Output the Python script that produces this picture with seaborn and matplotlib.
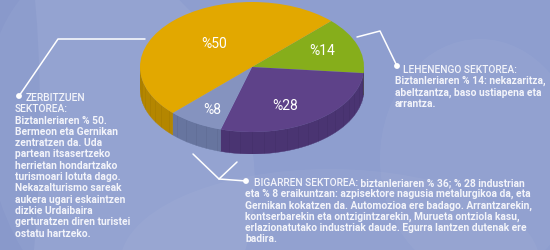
import numpy as np
import matplotlib
matplotlib.use("Agg")
import matplotlib.pyplot as plt
from matplotlib.patches import Polygon, Ellipse, Circle
import seaborn as sns

# ---- data ----
sectors = ["Lehenengo", "Bigarren (industria)", "Bigarren (eraikuntza)", "Zerbitzuak"]
values = [14, 28, 8, 50]
pct_labels = ["%14", "%28", "%8", "%50"]
top_colors = ["#86AE1B", "#5E4289", "#8593BF", "#E2A800"]
side_colors = ["#5F7E10", "#4A3472", "#67759F", "#B48600"]

left_head = ["ZERBITZUEN", "SEKTOREA:"]
left_body = ["Biztanleriaren % 50.", "Bermeon eta Gernikan", "zentratzen da. Uda",
             "partean itsasertzeko", "herrietan hondartzako", "turismoari lotuta dago.",
             "Nekazalturismo sareak", "aukera ugari eskaintzen", "dizkie Urdaibaira",
             "gerturatzen diren turistei", "ostatu hartzeko."]
right_head = "LEHENENGO SEKTOREA:"
right_body = ["Biztanleriaren % 14: nekazaritza,", "abeltzantza, baso ustiapena eta",
              "arrantza."]
bottom_head = "BIGARREN SEKTOREA:"
bottom_first = " biztanleriaren % 36; % 28 industrian"
bottom_body = ["eta % 8 eraikuntzan: azpisektore nagusia metalurgikoa da, eta",
               "Gernikan kokatzen da. Automozioa ere badago. Arrantzarekin,",
               "kontserbarekin eta ontzigintzarekin, Murueta ontziola kasu,",
               "erlazionatutako industriak daude. Egurra lantzen dutenak ere",
               "badira."]

sns.set_theme(style="white")
plt.rcParams['font.family'] = ['Roboto', 'DejaVu Sans']

W, H = 550, 251
fig = plt.figure(figsize=(W / 100, H / 100), dpi=100)
bg = "#8E9ECF"
fig.patch.set_facecolor(bg)

ax = fig.add_axes([0, 0, 1, 1])
ax.set_xlim(0, W)
ax.set_ylim(H, 0)
ax.axis("off")
ax.set_facecolor(bg)

# subtle lighter background shapes
ax.add_patch(Ellipse((120, 150), 260, 380, angle=-15, color="white", alpha=0.06, lw=0))
ax.add_patch(Ellipse((480, 160), 200, 240, color="white", alpha=0.04, lw=0))
ax.add_patch(Ellipse((330, 265), 420, 190, color="white", alpha=0.04, lw=0))
ax.add_patch(Ellipse((15, 120), 50, 400, color="#7F90C4", alpha=0.3, lw=0))
ax.set_zorder(0)

# ---- pie ----
cx0, cx1 = 140, 364
top_px, bot_top_px, bot_px = 3, 133, 155
b = (bot_top_px - top_px) / 2
d = (bot_px - bot_top_px) / b
pax = fig.add_axes([cx0 / W, 1 - bot_px / H, (cx1 - cx0) / W, (bot_px - top_px) / H])
pax.axis("off")
pax.set_zorder(1)

fr = np.array(values) / np.sum(values)
start = 45.0
angles = []
a = start
for f in fr:
    a2 = a - f * 360
    angles.append((a2, a))
    a = a2

for (a1, a2), sc in zip(angles, side_colors):
    lo = a1 % 360
    hi = lo + (a2 - a1)
    for k in (0, 360):
        s = max(lo, 180 + k)
        e = min(hi, 360 + k)
        if e > s:
            t = np.radians(np.linspace(s, e, 60))
            xs = np.cos(t)
            ys = np.sin(t)
            pts = np.concatenate([np.column_stack([xs, ys]),
                                  np.column_stack([xs[::-1], ys[::-1] - d])])
            pax.add_patch(Polygon(pts, closed=True, facecolor=sc, edgecolor=sc, lw=0.3, zorder=1))
            for tt in np.radians(np.arange(np.ceil(s / 6) * 6, e, 6)):
                pax.plot([np.cos(tt)] * 2, [np.sin(tt), np.sin(tt) - d],
                         color="black", alpha=0.05, lw=0.6, zorder=1.5)

wedges, _ = pax.pie(values, colors=top_colors, startangle=start, counterclock=False,
                    radius=1, center=(0, 0), frame=False,
                    wedgeprops=dict(linewidth=0, zorder=2))
pax.set_aspect("auto")
pax.set_xlim(-1, 1)
pax.set_ylim(-1 - d, 1)

# overlay axes for labels and text on top
tax = fig.add_axes([0, 0, 1, 1])
tax.set_xlim(0, W)
tax.set_ylim(H, 0)
tax.axis("off")
tax.set_zorder(2)

label_pos = [(322, 51), (285, 106), (212, 110), (214, 44)]
for lab, (x, y) in zip(pct_labels, label_pos):
    tax.text(x, y, lab, color="white", fontsize=10, ha="center", va="center")

# ---- callout lines ----
lc = "white"
tax.plot([145, 58, 19], [40, 40, 97], color=lc, lw=1.1)
tax.add_patch(Circle((19, 97), 2.2, color=lc))
tax.plot([357, 380, 397], [38, 32, 67], color=lc, lw=1.1)
tax.add_patch(Circle((397, 67), 2.2, color=lc))
tax.plot([193, 219, 237], [155, 180, 163], color=lc, lw=1.1)
tax.plot([219, 246], [180, 182], color=lc, lw=1.1)
tax.add_patch(Circle((246, 182), 2.2, color=lc))

# ---- text ----
tc = "#F3F4FA"
fs = 7.4
step = 11.3
tax.text(26, 98, left_head[0], color=tc, fontsize=fs, va="center", ha="left", fontweight="medium")
tax.text(15, 98 + step, left_head[1], color=tc, fontsize=fs, va="center", ha="left", fontweight="medium")
for i, line in enumerate(left_body):
    tax.text(15, 98 + step * (i + 2), line, color=tc, fontsize=fs, va="center", ha="left", fontweight="bold")

tax.text(403, 70, right_head, color=tc, fontsize=fs, va="center", ha="left", fontweight="medium")
for i, line in enumerate(right_body):
    tax.text(395, 70 + step * (i + 1), line, color=tc, fontsize=fs, va="center", ha="left", fontweight="bold")

t = tax.text(254, 183, bottom_head, color=tc, fontsize=fs, va="center", ha="left", fontweight="medium")
fig.canvas.draw()
bb = t.get_window_extent()
x_end_data = tax.transData.inverted().transform((bb.x1, 0))[0]
tax.text(x_end_data, 183, bottom_first, color=tc, fontsize=fs, va="center", ha="left", fontweight="bold")
for i, line in enumerate(bottom_body):
    tax.text(245, 183 + step * (i + 1), line, color=tc, fontsize=fs, va="center", ha="left", fontweight="bold")

fig.savefig("out.png", dpi=100, facecolor=bg)
